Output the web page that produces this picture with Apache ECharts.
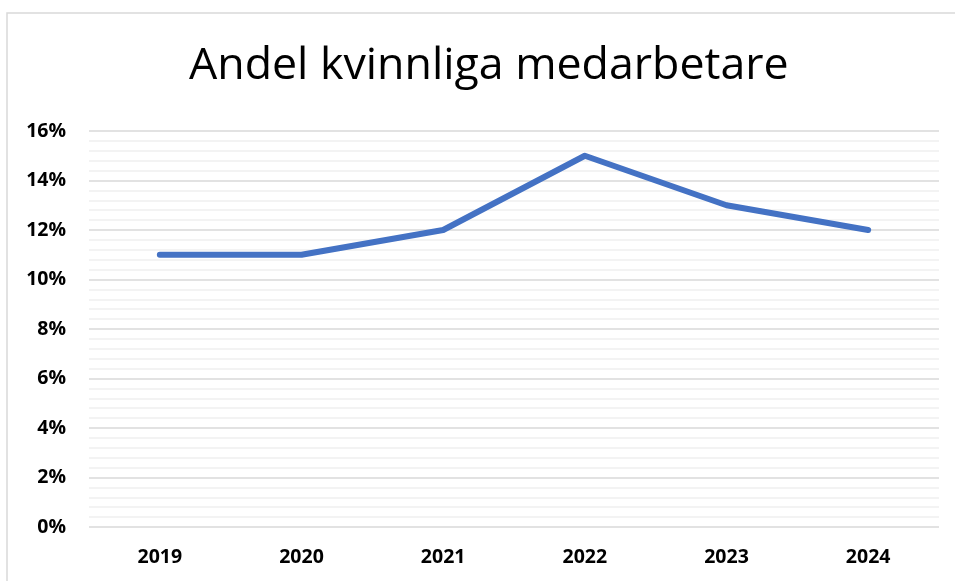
<!DOCTYPE html>
<html>
<head>
<meta charset="utf-8">
<script src="https://cdn.jsdelivr.net/npm/echarts@6/dist/echarts.min.js"></script>
<style>
    html, body { margin: 0; padding: 0; background: #fff; }
    #chart { width: 955px; height: 581px; }
</style>
</head>
<body>
<div id="chart"></div>
<script>
const titleText = 'Andel kvinnliga medarbetare';
const years = ['2019', '2020', '2021', '2022', '2023', '2024'];
const shareWomen = [11, 11, 12, 15, 13, 12];
const yTicks = [0, 2, 4, 6, 8, 10, 12, 14, 16];

let myChart = echarts.init(document.getElementById('chart'));
myChart.setOption({
    animation: false,
    title: {
        text: titleText,
        left: 184,
        top: 39,
        textStyle: {
            fontFamily: 'Open Sans',
            fontWeight: 'normal',
            fontSize: 44.7,
            color: '#000'
        }
    },
    graphic: [{
        type: 'rect',
        shape: { x: 7, y: 13, width: 1000, height: 700 },
        style: { fill: 'none', stroke: '#d9d9d9', lineWidth: 1.5 },
        silent: true
    }],
    grid: { left: 89, right: 16, top: 131, bottom: 54 },
    xAxis: {
        type: 'category',
        data: years,
        boundaryGap: true,
        axisLine: { show: false },
        axisTick: { show: false },
        axisLabel: {
            margin: 20,
            fontFamily: 'Open Sans',
            fontWeight: 'bold',
            fontSize: 19.5,
            color: '#000'
        }
    },
    yAxis: {
        type: 'value',
        min: yTicks[0],
        max: yTicks[yTicks.length - 1],
        interval: 2,
        axisLine: { show: false },
        axisTick: { show: false },
        axisLabel: {
            margin: 23,
            formatter: '{value}%',
            fontFamily: 'Open Sans',
            fontWeight: 'bold',
            fontSize: 19.5,
            color: '#000'
        },
        splitLine: { lineStyle: { color: '#d9d9d9', width: 1.5 } },
        minorTick: { show: false, splitNumber: 5 },
        minorSplitLine: { show: true, lineStyle: { color: '#f0f0f0', width: 1.5 } }
    },
    series: [{
        type: 'line',
        data: shareWomen,
        symbol: 'none',
        lineStyle: { color: '#4472c4', width: 6, cap: 'round', join: 'round' }
    }]
});
</script>
</body>
</html>
